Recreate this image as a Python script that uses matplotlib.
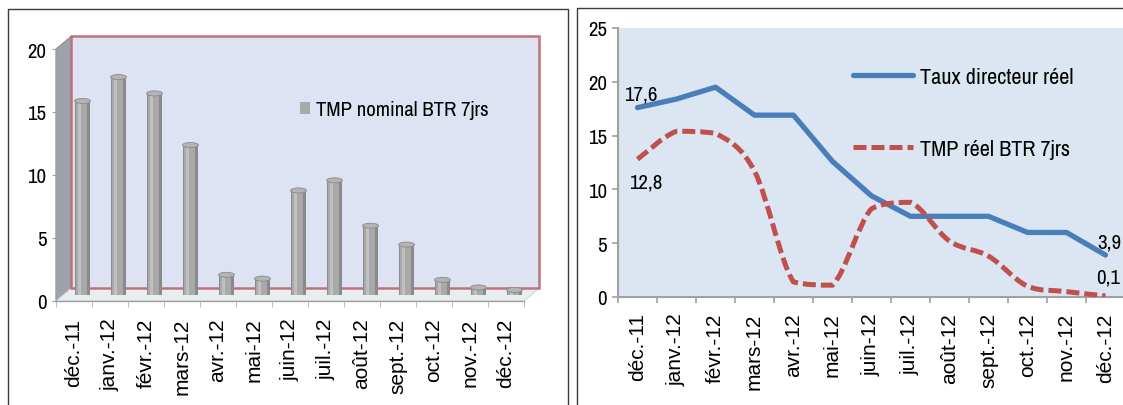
import matplotlib.pyplot as plt
import numpy as np
from matplotlib.lines import Line2D
from matplotlib.patches import Polygon, Rectangle, Ellipse, PathPatch
from matplotlib.path import Path
from matplotlib.transforms import ScaledTranslation

########################################################################################################################
## data
########################################################################################################################
months = ['déc.-11', 'janv.-12', 'févr.-12', 'mars-12', 'avr.-12', 'mai-12', 'juin-12',
          'juil.-12', 'août-12', 'sept.-12', 'oct.-12', 'nov.-12', 'déc.-12']
tmp_nominal = [15.4, 17.3, 16.0, 11.9, 1.6, 1.3, 8.3, 9.1, 5.5, 4.0, 1.2, 0.6, 0.4]
taux_directeur_reel = [17.6, 18.4, 19.5, 16.9, 16.9, 12.6, 9.4, 7.5, 7.5, 7.5, 6.0, 6.0, 3.9]
tmp_reel = [12.8, 15.4, 15.2, 11.7, 1.4, 1.1, 8.2, 8.8, 5.2, 3.8, 1.0, 0.5, 0.1]

########################################################################################################################
## figure setup
########################################################################################################################
W, H = 1123, 406
NARROW = ['Archivo Narrow', 'Roboto Condensed', 'Liberation Sans']
REGULAR = ['Liberation Sans']
FS = 15

fig = plt.figure(figsize=(W / 100, H / 100), dpi=100)
fig.patch.set_facecolor('white')


def px(x0, y0, x1, y1):
    # pixel box measured from the top-left corner -> figure fraction rect
    return [x0 / W, 1 - y1 / H, (x1 - x0) / W, (y1 - y0) / H]


def frame_line(xs, ys):
    fig.add_artist(Line2D([x / W for x in xs], [1 - y / H for y in ys], color='#3a3a3a', lw=1.0,
                          transform=fig.transFigure))


# panel frames
frame_line([8, 8, 568, 568], [406, 10, 10, 406])
frame_line([577, 577, 1123], [406, 9, 9])

x = np.arange(len(months))

########################################################################################################################
## left panel: 3D-looking column chart
########################################################################################################################
ax1 = fig.add_axes(px(56, 50, 524, 302))
ax1.set_xlim(-0.5, 12.5)
ax1.set_ylim(0, 20)
ax1.patch.set_visible(False)

DX, DY = 0.42, 1.0   # depth of the box, in data units

side = Polygon([(-0.5, 0), (-0.5, 20), (-0.5 + DX, 20 + DY), (-0.5 + DX, DY)], closed=True,
               facecolor='#9ea2ac', edgecolor='#8a8e98', lw=0.8, clip_on=False, zorder=1)
floor = Polygon([(-0.5, 0), (12.5, 0), (12.5 + DX, DY), (-0.5 + DX, DY)], closed=True,
                facecolor='#e8eef0', edgecolor='#d0d8dc', lw=0.8, clip_on=False, zorder=1)
wall = Rectangle((-0.5 + DX, DY), 13, 20, facecolor='#dee3f3', edgecolor='#c0727a', lw=1.8,
                 clip_on=False, zorder=1.5)
for p in (side, floor, wall):
    ax1.add_patch(p)

bar_tr = ax1.transData + ScaledTranslation(0.085, 0.06, fig.dpi_scale_trans)
ax1.bar(x, tmp_nominal, width=0.44, color='#8a8a8a', transform=bar_tr, clip_on=False, zorder=3)
ax1.bar(x - 0.03, tmp_nominal, width=0.30, color='#a9a9a9', transform=bar_tr, clip_on=False, zorder=3,
        label='TMP nominal BTR 7jrs')
ax1.bar(x - 0.08, tmp_nominal, width=0.10, color='#c0c0c0', transform=bar_tr, clip_on=False, zorder=3)
for i, v in enumerate(tmp_nominal):
    ax1.add_patch(Ellipse((i, v), 0.44, 0.4, facecolor='#b4b4b4', edgecolor='#8a8a8a', lw=0.6,
                          transform=bar_tr, clip_on=False, zorder=4))

for s in ('top', 'right'):
    ax1.spines[s].set_visible(False)
for s in ('left', 'bottom'):
    ax1.spines[s].set_color('#a0a0a0')
    ax1.spines[s].set_linewidth(1.0)
    ax1.spines[s].set_zorder(5)

ax1.set_yticks(range(0, 21, 5))
ax1.set_xticks(x)
ax1.set_xticks(np.arange(-0.5, 13, 1), minor=True)
ax1.tick_params(axis='y', length=3, color='#a0a0a0', pad=4)
ax1.tick_params(axis='x', which='major', length=0, pad=12)
ax1.tick_params(axis='x', which='minor', length=4, color='#b0b0b0')
ax1.set_xticklabels(months, rotation=90, family=REGULAR, fontsize=FS)
for t in ax1.get_yticklabels():
    t.set_family(NARROW)
    t.set_fontsize(FS)

ax1.legend(loc='center left', bbox_to_anchor=(300 / W, 1 - 111 / H), bbox_transform=fig.transFigure,
           frameon=False, prop={'family': NARROW, 'size': FS}, handlelength=0.5, handleheight=0.5,
           handletextpad=0.25, borderpad=0, borderaxespad=0)

########################################################################################################################
## right panel: real rates
########################################################################################################################
ax2 = fig.add_axes(px(618, 29, 1125, 298))
ax2.set_xlim(-0.5, 12.5)
ax2.set_ylim(0, 25)
ax2.set_facecolor('#dce6f2')

BLUE = '#4a7ebb'
RED = '#c0504d'
DASH = (0, (2.6, 1.0))

ax2.plot(x, taux_directeur_reel, color=BLUE, lw=3.8, solid_joinstyle='round', solid_capstyle='round',
         zorder=3, label='Taux directeur réel')

# smoothed dashed curve through the TMP points (cubic bezier, handles kept inside each segment's range)
pts = np.column_stack([x, tmp_reel]).astype(float)
verts = [pts[0]]
codes = [Path.MOVETO]
for i in range(len(pts) - 1):
    a, b = pts[i], pts[i + 1]
    p0 = pts[i - 1] if i > 0 else a
    p3 = pts[i + 2] if i + 2 < len(pts) else b
    c1 = a + (b - p0) / 6.0
    c2 = b - (p3 - a) / 6.0
    lo, hi = min(a[1], b[1]), max(a[1], b[1])
    c1[1] = np.clip(c1[1], lo, hi)
    c2[1] = np.clip(c2[1], lo, hi)
    verts += [c1, c2, b]
    codes += [Path.CURVE4] * 3
ax2.add_patch(PathPatch(Path(verts, codes), fill=False, edgecolor=RED, lw=3.6, linestyle=DASH,
                        capstyle='butt', zorder=3))

# value labels on the first and last points


def fmt(v):
    return f'{v:.1f}'.replace('.', ',')


lab = dict(textcoords='offset pixels', family=NARROW, fontsize=FS, va='center', annotation_clip=False)
ax2.annotate(fmt(taux_directeur_reel[0]), (0, taux_directeur_reel[0]), xytext=(3, 14), ha='center', **lab)
ax2.annotate(fmt(tmp_reel[0]), (0, tmp_reel[0]), xytext=(8, -23), ha='center', **lab)
ax2.annotate(fmt(taux_directeur_reel[-1]), (12, taux_directeur_reel[-1]), xytext=(-8, 13), ha='left', **lab)
ax2.annotate(fmt(tmp_reel[-1]), (12, tmp_reel[-1]), xytext=(-9, 19), ha='left', **lab)

for s in ('top', 'right'):
    ax2.spines[s].set_visible(False)
for s in ('left', 'bottom'):
    ax2.spines[s].set_color('#a0a0a0')
    ax2.spines[s].set_linewidth(1.5)

ax2.set_yticks(range(0, 26, 5))
ax2.set_xticks(x)
ax2.set_xticks(np.arange(-0.5, 13, 1), minor=True)
ax2.tick_params(axis='y', length=4, color='#a0a0a0', width=1.2, pad=4)
ax2.tick_params(axis='x', which='major', length=0, pad=11)
ax2.tick_params(axis='x', which='minor', length=4, color='#a0a0a0', width=1.2)
ax2.set_xticklabels(months, rotation=90, family=REGULAR, fontsize=FS)
for t in ax2.get_yticklabels():
    t.set_family(NARROW)
    t.set_fontsize(FS)

handles = [Line2D([], [], color=BLUE, lw=3.8, solid_capstyle='round'),
           Line2D([], [], color=RED, lw=3.6, linestyle=DASH)]
ax2.legend(handles, ['Taux directeur réel', 'TMP réel BTR 7jrs'], loc='center left',
           bbox_to_anchor=(853 / W, 1 - 114 / H), bbox_transform=fig.transFigure, frameon=False,
           prop={'family': NARROW, 'size': 16}, handlelength=2.7, handletextpad=0.3,
           labelspacing=2.35, borderpad=0, borderaxespad=0)

plt.savefig('out.png', dpi=100)
